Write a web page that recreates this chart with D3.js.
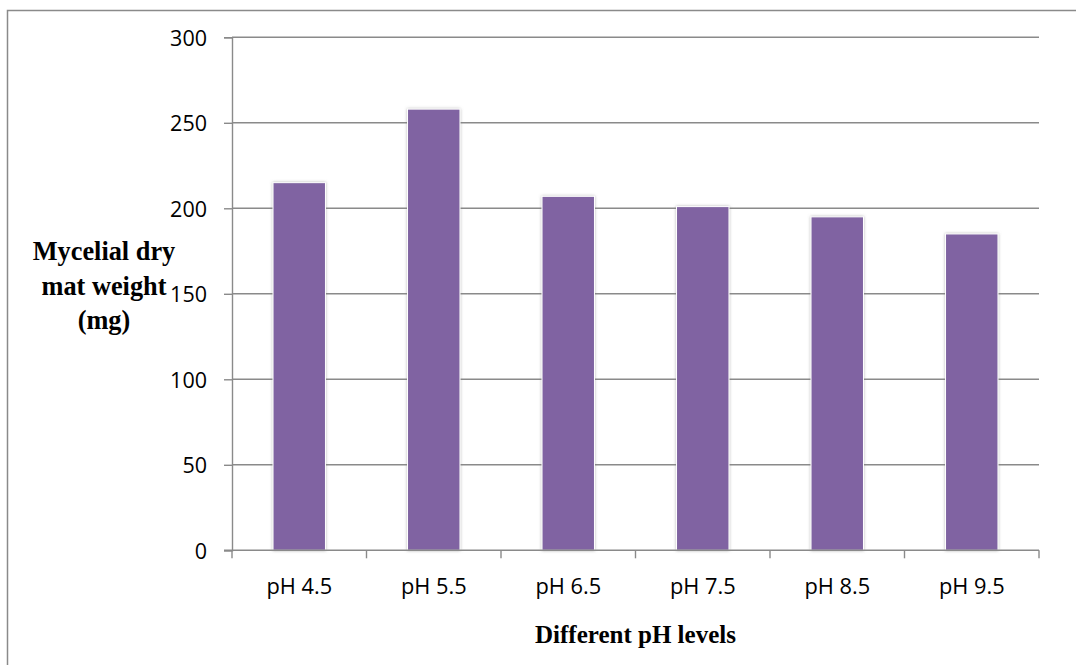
<!DOCTYPE html>
<html>
<head>
<meta charset="utf-8">
<script src="https://cdn.jsdelivr.net/npm/d3@7"></script>
<style>
  html, body { margin: 0; padding: 0; background: #fff; }
  svg { display: block; }
  .tick text { font-family: "Open Sans", sans-serif; font-size: 21.5px; fill: #000; }
  .title { font-family: "Liberation Serif", "Times New Roman", serif; font-weight: bold; font-size: 25px; fill: #000; }
</style>
</head>
<body>
<script>
// pH treatments and mycelial dry mat weight (mg)
const categories = ["pH 4.5", "pH 5.5", "pH 6.5", "pH 7.5", "pH 8.5", "pH 9.5"];
const weights = [215, 258, 207, 201, 195, 185];
const yTicks = [0, 50, 100, 150, 200, 250, 300];
const yTitleLines = ["Mycelial dry", "mat weight", "(mg)"];
const xTitle = "Different pH levels";

const W = 1076, H = 665;
const plot = { left: 232, right: 1039, top: 37.3, bottom: 550.3 };
const gridColor = "#8a8a8a";

const svg = d3.select("body").append("svg")
  .attr("width", W).attr("height", H);

// drop-shadow halo around the bars
const defs = svg.append("defs");
const f = defs.append("filter").attr("id", "barShadow")
  .attr("x", "-20%").attr("y", "-10%").attr("width", "140%").attr("height", "120%");
f.append("feDropShadow").attr("dx", 0).attr("dy", 0)
  .attr("stdDeviation", 1.6).attr("flood-color", "#7a7a7a").attr("flood-opacity", 0.55);

// outer chart border
svg.append("rect")
  .attr("x", 7.5).attr("y", 10.5)
  .attr("width", W + 10).attr("height", H + 10)
  .attr("fill", "none").attr("stroke", gridColor).attr("stroke-width", 1.5);

const y = d3.scaleLinear().domain([0, 300]).range([plot.bottom, plot.top]);
const x = d3.scaleBand().domain(categories).range([plot.left, plot.right]).padding(0);

// horizontal gridlines
svg.append("g").selectAll("line").data(yTicks.filter(d => d > 0)).join("line")
  .attr("x1", plot.left).attr("x2", plot.right)
  .attr("y1", d => y(d)).attr("y2", d => y(d))
  .attr("stroke", gridColor).attr("stroke-width", 1.4);

// y axis
const yAxis = svg.append("g").attr("transform", `translate(${plot.left},0)`)
  .call(d3.axisLeft(y).tickValues(yTicks).tickSize(8).tickPadding(17).tickFormat(d3.format("d")));
yAxis.select(".domain").attr("stroke", gridColor).attr("stroke-width", 1.4);
yAxis.selectAll(".tick line").attr("stroke", gridColor).attr("stroke-width", 1.4);
yAxis.selectAll(".tick text").attr("dy", "0.36em");

// bars
const barFrac = 0.39;
svg.append("g").selectAll("rect").data(categories).join("rect")
  .attr("x", (c) => x(c) + x.bandwidth() * (1 - barFrac) / 2)
  .attr("width", x.bandwidth() * barFrac)
  .attr("y", (c, i) => y(weights[i]))
  .attr("height", (c, i) => y(0) - y(weights[i]))
  .attr("fill", "#8064A2")
  .attr("stroke", "#ffffff").attr("stroke-width", 1)
  .attr("filter", "url(#barShadow)");

// x axis baseline with category boundary ticks
const xAxisG = svg.append("g");
xAxisG.append("line")
  .attr("x1", plot.left - 8).attr("x2", plot.right)
  .attr("y1", y(0)).attr("y2", y(0))
  .attr("stroke", gridColor).attr("stroke-width", 1.4);
const bounds = categories.map(c => x(c)).concat([x(categories[categories.length - 1]) + x.bandwidth()]);
xAxisG.selectAll("line.b").data(bounds).join("line").attr("class", "b")
  .attr("x1", d => d).attr("x2", d => d)
  .attr("y1", y(0)).attr("y2", y(0) + 8)
  .attr("stroke", gridColor).attr("stroke-width", 1.4);
xAxisG.selectAll("text").data(categories).join("text")
  .attr("class", "tick-label")
  .attr("x", c => x(c) + x.bandwidth() / 2)
  .attr("y", 594)
  .attr("text-anchor", "middle")
  .style("font-family", "'Open Sans', sans-serif").style("font-size", "21.8px")
  .text(c => c);

// axis titles
svg.append("text").attr("class", "title")
  .attr("x", (plot.left + plot.right) / 2).attr("y", 643)
  .attr("text-anchor", "middle").text(xTitle);

svg.append("text").attr("class", "title")
  .attr("text-anchor", "middle")
  .style("font-size", "26.3px")
  .selectAll("tspan").data(yTitleLines).join("tspan")
  .attr("x", 104).attr("y", (d, i) => 260 + i * 34.5)
  .text(d => d);
</script>
</body>
</html>
